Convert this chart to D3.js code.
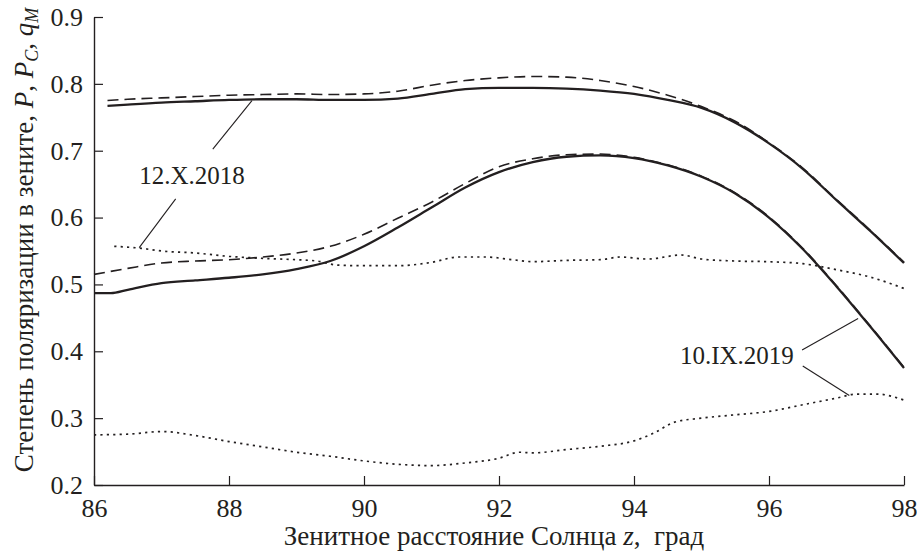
<!DOCTYPE html>
<html>
<head>
<meta charset="utf-8">
<script src="https://cdn.jsdelivr.net/npm/d3@7"></script>
<style>
  html, body { margin: 0; padding: 0; background: #fff; }
  svg { display: block; }
</style>
</head>
<body>
<svg id="chart" width="917" height="553"></svg>
<script>
// Zenith angle of the Sun, degrees, and degree of polarization at the zenith
const xTicks = [86, 88, 90, 92, 94, 96, 98];
const yTicks = [0.2, 0.3, 0.4, 0.5, 0.6, 0.7, 0.8, 0.9];

// 12.X.2018
const zOctP = [86.2, 86.5, 87, 87.5, 88, 88.5, 89, 89.5, 90, 90.5, 91, 91.5, 92, 92.5, 93, 93.5, 94, 94.5, 95, 95.5, 96, 96.5, 97, 97.5, 98];
const octP  = [0.767, 0.769, 0.772, 0.774, 0.776, 0.777, 0.777, 0.776, 0.776, 0.778, 0.785, 0.792, 0.794, 0.794, 0.793, 0.790, 0.785, 0.776, 0.764, 0.742, 0.711, 0.673, 0.626, 0.580, 0.532];
const zOctPC = [86.2, 86.5, 87, 87.5, 88, 88.5, 89, 89.5, 90, 90.5, 91, 91.5, 92, 92.5, 93, 93.5, 94, 94.5, 95, 95.5, 96, 96.5, 97, 97.5, 98];
const octPC  = [0.775, 0.777, 0.779, 0.781, 0.783, 0.784, 0.785, 0.784, 0.785, 0.789, 0.798, 0.805, 0.809, 0.811, 0.810, 0.805, 0.796, 0.783, 0.766, 0.744, 0.712, 0.674, 0.627, 0.581, 0.533];
const zOctQ = [86.3, 86.7, 87, 87.5, 88, 88.5, 89, 89.3, 89.6, 90, 90.5, 91, 91.4, 91.8, 92.2, 92.5, 93, 93.5, 93.8, 94.2, 94.7, 95, 95.5, 96, 96.5, 97, 97.5, 98];
const octQ  = [0.557, 0.554, 0.550, 0.547, 0.542, 0.539, 0.537, 0.535, 0.529, 0.528, 0.528, 0.533, 0.541, 0.541, 0.537, 0.534, 0.536, 0.537, 0.541, 0.538, 0.544, 0.538, 0.535, 0.534, 0.531, 0.522, 0.511, 0.494];

// 10.IX.2019
const zSepP = [86.0, 86.25, 86.5, 87, 87.5, 88, 88.5, 89, 89.5, 90, 90.5, 91, 91.5, 92, 92.5, 93, 93.5, 94, 94.5, 95, 95.5, 96, 96.5, 97, 97.5, 98];
const sepP  = [0.487, 0.487, 0.492, 0.502, 0.506, 0.510, 0.515, 0.523, 0.535, 0.557, 0.585, 0.615, 0.645, 0.668, 0.683, 0.691, 0.693, 0.689, 0.678, 0.661, 0.636, 0.600, 0.553, 0.497, 0.437, 0.375];
const zSepPC = [86.0, 86.5, 87, 87.5, 88, 88.5, 89, 89.5, 90, 90.5, 91, 91.5, 92, 92.5, 93, 93.5, 94, 94.5, 95, 95.5, 96, 96.5, 97, 97.5, 98];
const sepPC  = [0.515, 0.524, 0.532, 0.535, 0.537, 0.541, 0.547, 0.557, 0.575, 0.599, 0.623, 0.651, 0.676, 0.688, 0.694, 0.695, 0.690, 0.679, 0.662, 0.637, 0.601, 0.554, 0.498, 0.438, 0.376];
const zSepQ = [86.0, 86.5, 87, 87.5, 88, 88.5, 89, 89.5, 90, 90.5, 91, 91.5, 92, 92.3, 92.5, 93, 93.5, 94, 94.3, 94.6, 95, 95.5, 96, 96.5, 97, 97.3, 97.6, 98];
const sepQ  = [0.275, 0.276, 0.280, 0.274, 0.265, 0.257, 0.249, 0.243, 0.236, 0.231, 0.229, 0.233, 0.240, 0.249, 0.248, 0.253, 0.258, 0.266, 0.278, 0.294, 0.300, 0.305, 0.310, 0.320, 0.330, 0.336, 0.336, 0.327];

// Date labels and their leader lines (data coordinates)
const labelText = ["12.X.2018", "10.IX.2019"];
const labelPos = [[86.67, 0.650], [94.68, 0.381]];
const leaders = [
  [[87.76, 0.7025], [88.34, 0.775]],
  [[87.21, 0.628], [86.67, 0.555]],
  [[96.49, 0.402], [97.32, 0.449]],
  [[96.50, 0.378], [97.19, 0.334]]
];

const FONT = '"Liberation Serif", "Times New Roman", Tinos, serif';
const ink = "#231f20";

const svg = d3.select("#chart");
const margin = { left: 94, top: 17, right: 13, bottom: 68 };
const W = 917 - margin.left - margin.right;
const H = 553 - margin.top - margin.bottom;

const x = d3.scaleLinear().domain([86, 98]).range([0, W]);
const y = d3.scaleLinear().domain([0.2, 0.9]).range([H, 0]);

const g = svg.append("g").attr("transform", `translate(${margin.left},${margin.top})`);

// Axes with inward ticks
const xAxis = d3.axisBottom(x).tickValues(xTicks).tickSizeInner(-9).tickSizeOuter(0).tickPadding(13.5)
  .tickFormat(d3.format("d"));
const yAxis = d3.axisLeft(y).tickValues(yTicks).tickSizeInner(-9).tickSizeOuter(0).tickPadding(11)
  .tickFormat(d3.format(".1f"));

const gx = g.append("g").attr("transform", `translate(0,${H})`).call(xAxis);
const gy = g.append("g").call(yAxis);
[gx, gy].forEach(a => {
  a.attr("font-family", null).attr("font-size", null);
  a.selectAll("path.domain").attr("stroke", ink).attr("stroke-width", 1.4);
  a.selectAll(".tick line").attr("stroke", ink).attr("stroke-width", 1.2);
  a.selectAll(".tick text").attr("fill", ink)
    .style("font-family", FONT).style("font-size", "26px");
});

// Curves
const line = d3.line().x(d => x(d[0])).y(d => y(d[1])).curve(d3.curveMonotoneX);
const zip = (zs, vs) => zs.map((z, i) => [z, vs[i]]);

const series = [
  { data: zip(zOctQ, octQ), dash: "2.2,4.2", w: 1.7 },
  { data: zip(zSepQ, sepQ), dash: "2.2,4.2", w: 1.7 },
  { data: zip(zOctPC, octPC), dash: "11,6", w: 1.6 },
  { data: zip(zSepPC, sepPC), dash: "11,6", w: 1.6 },
  { data: zip(zOctP, octP), dash: null, w: 2.3 },
  { data: zip(zSepP, sepP), dash: null, w: 2.3 }
];

g.selectAll("path.series").data(series).join("path")
  .attr("class", "series")
  .attr("d", d => line(d.data))
  .attr("fill", "none")
  .attr("stroke", ink)
  .attr("stroke-width", d => d.w)
  .attr("stroke-dasharray", d => d.dash);

// Leader lines and date labels
g.selectAll("line.leader").data(leaders).join("line")
  .attr("class", "leader")
  .attr("x1", d => x(d[0][0])).attr("y1", d => y(d[0][1]))
  .attr("x2", d => x(d[1][0])).attr("y2", d => y(d[1][1]))
  .attr("stroke", ink).attr("stroke-width", 1.1);

g.selectAll("text.date").data(labelText).join("text")
  .attr("class", "date")
  .attr("x", (d, i) => x(labelPos[i][0]))
  .attr("y", (d, i) => y(labelPos[i][1]))
  .style("font-family", FONT)
  .style("font-size", "25px")
  .attr("fill", ink)
  .text(d => d);

// Axis titles
const xt = svg.append("text")
  .attr("x", margin.left + W / 2 - 5).attr("y", 545)
  .attr("text-anchor", "middle")
  .style("font-family", FONT).style("font-size", "27px").style("white-space", "pre")
  .attr("fill", ink);
xt.append("tspan").text("Зенитное расстояние Солнца ");
xt.append("tspan").attr("font-style", "italic").text("z");
xt.append("tspan").text(",  град");

const yt = svg.append("text")
  .attr("transform", `translate(33,${margin.top + H / 2 - 11}) rotate(-90)`)
  .attr("text-anchor", "middle")
  .style("font-family", FONT).style("font-size", "27px")
  .attr("fill", ink);
yt.append("tspan").text("Степень поляризации в зените, ");
yt.append("tspan").attr("font-style", "italic").text("P");
yt.append("tspan").text(", ");
yt.append("tspan").attr("font-style", "italic").text("P");
yt.append("tspan").attr("font-style", "italic").style("font-size", "18px").attr("dy", 5).text("C");
yt.append("tspan").attr("dy", -5).text(", ");
yt.append("tspan").attr("font-style", "italic").text("q");
yt.append("tspan").attr("font-style", "italic").style("font-size", "18px").attr("dy", 5).text("M");
</script>
</body>
</html>
